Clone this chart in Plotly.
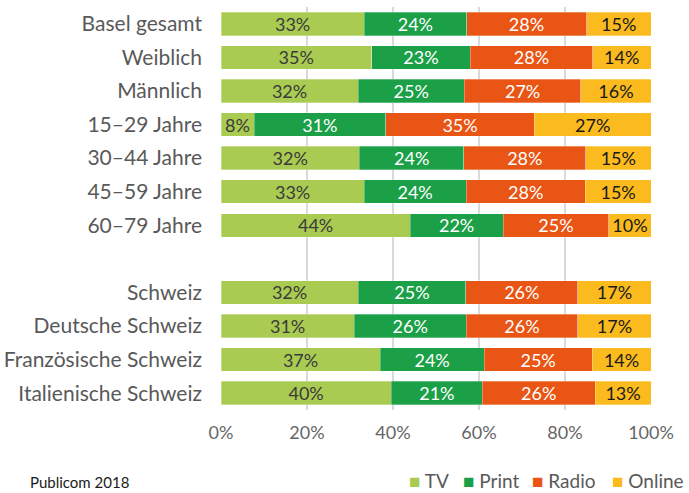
import plotly.graph_objects as go

categories = ["Basel gesamt", "Weiblich", "Männlich", "15–29 Jahre", "30–44 Jahre",
              "45–59 Jahre", "60–79 Jahre", " ", "Schweiz", "Deutsche Schweiz",
              "Französische Schweiz", "Italienische Schweiz"]

tv     = [33.3, 35.0, 31.9, 7.7, 32.2, 33.3, 44.0, None, 31.9, 31.0, 37.0, 39.6]
prnt   = [23.8, 23.0, 24.7, 30.6, 24.3, 23.7, 21.6, None, 25.0, 26.0, 24.2, 21.2]
radio  = [27.9, 28.4, 27.1, 34.6, 28.3, 27.7, 24.6, None, 26.1, 26.0, 25.1, 26.2]
online = [15.0, 13.6, 16.3, 27.1, 15.2, 15.3, 9.8, None, 17.0, 17.0, 13.7, 13.0]

series_names = ["TV", "Print", "Radio", "Online"]
series_values = [tv, prnt, radio, online]
series_colors = ["#A9CB52", "#1BA048", "#E85514", "#FBBA1E"]
label_colors = ["#3a3a3a", "#ffffff", "#ffffff", "#1a1a1a"]

tick_vals = [0, 20, 40, 60, 80, 100]
tick_text = ["0%", "20%", "40%", "60%", "80%", "100%"]

FONT = "Lato, 'Open Sans', sans-serif"

fig = go.Figure()
for name, vals, color, tcolor in zip(series_names, series_values, series_colors, label_colors):
    fig.add_trace(go.Bar(
        name=name, y=categories, x=vals, orientation="h",
        marker=dict(color=color, line=dict(color="rgba(255,255,255,0.6)", width=0.5)),
        texttemplate="%{x:.0f}%", textposition="inside", insidetextanchor="middle",
        textfont=dict(color=tcolor, size=18, family=FONT),
        constraintext="none", showlegend=False,
    ))

fig.update_layout(
    barmode="stack", bargap=0.3,
    width=689, height=493,
    margin=dict(l=221, r=38, t=7, b=83, autoexpand=False),
    paper_bgcolor="white", plot_bgcolor="white",
    font=dict(family=FONT, color="#595959"),
    showlegend=False,
    uniformtext=dict(mode=False),
)
fig.update_xaxes(range=[0, 100], tickvals=tick_vals, ticktext=tick_text,
                 showgrid=True, gridcolor="#d9d9d9", gridwidth=1.5,
                 zeroline=False, showline=False, automargin=False,
                 tickfont=dict(size=18, color="#666666", family=FONT),
                 ticklabelstandoff=10, fixedrange=True)
fig.update_yaxes(categoryorder="array", categoryarray=categories,
                 autorange="reversed", showgrid=False, zeroline=False, automargin=False,
                 tickfont=dict(size=21, color="#595959", family=FONT),
                 ticklabelstandoff=18, fixedrange=True)

# legend row (bottom right)
legend_x = [0.4326, 0.5581, 0.7186, 0.9047]
for name, color, lx in zip(series_names, series_colors, legend_x):
    fig.add_annotation(
        text=f'<span style="color:{color};font-size:19px">■</span> {name}',
        xref="paper", yref="paper", x=lx, y=-0.1737, xanchor="left", yanchor="middle",
        showarrow=False, font=dict(size=19, color="#595959", family=FONT))

fig.add_annotation(text="Publicom 2018", xref="paper", yref="paper",
                   x=-0.449, y=-0.179, xanchor="left", yanchor="middle",
                   showarrow=False, font=dict(size=15, color="#1a1a1a", family=FONT))

fig.write_html("out.html", config={"displayModeBar": False},
               post_script="document.body.style.margin='0';document.body.style.overflow='hidden';")
